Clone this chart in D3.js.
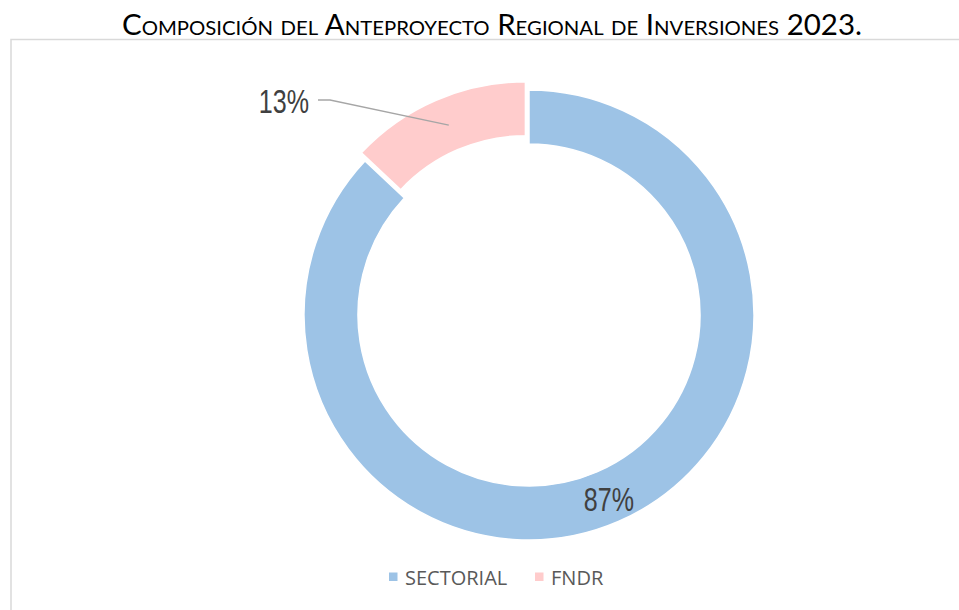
<!DOCTYPE html>
<html>
<head>
<meta charset="utf-8">
<script src="https://cdn.jsdelivr.net/npm/d3@7"></script>
<style>
  body { margin: 0; background: #fff; }
  svg { display: block; }
</style>
</head>
<body>
<svg id="chart" width="959" height="610"></svg>
<script>
const categories = ["SECTORIAL", "FNDR"];
const values = [87, 13];
const percentLabels = ["87%", "13%"];
const colors = ["#9dc3e6", "#ffcccc"];
const title = "Composición del Anteproyecto Regional de Inversiones 2023.";

const svg = d3.select("#chart");

// frame (only top and left edges visible)
svg.append("path")
   .attr("d", "M11,610 L11,39.5 L959,39.5")
   .attr("fill", "none")
   .attr("stroke", "#d9d9d9")
   .attr("stroke-width", 1.5);

// title
svg.append("text")
   .attr("x", 492)
   .attr("y", 35)
   .attr("text-anchor", "middle")
   .attr("textLength", 740)
   .attr("lengthAdjust", "spacingAndGlyphs")
   .style("font-family", "Lato, 'Open Sans', sans-serif")
   .style("font-size", "29px")
   .style("font-variant", "small-caps")
   .style("fill", "#000")
   .text(title);

// donut
const cx = 529, cy = 315;
const outerR = 225, innerR = 171;
const explode = 9;

const pie = d3.pie().sort(null).value(d => d);
const arcs = pie(values);
const arc = d3.arc().innerRadius(innerR).outerRadius(outerR);
const labelArc = d3.arc().innerRadius(201).outerRadius(201);

const g = svg.append("g").attr("transform", `translate(${cx},${cy})`);

const offsetOf = (d, i) => {
    if (i !== 1) return [0, 0];
    const a = (d.startAngle + d.endAngle) / 2;
    return [Math.sin(a) * explode, -Math.cos(a) * explode];
};

g.selectAll("path.slice")
 .data(arcs)
 .enter()
 .append("path")
 .attr("class", "slice")
 .attr("d", arc)
 .attr("transform", (d, i) => `translate(${offsetOf(d, i)})`)
 .attr("fill", (d, i) => colors[i])
 .attr("stroke", "#fff")
 .attr("stroke-width", 1.5);

const labelStyle = sel => sel
    .style("font-family", "'Liberation Sans', Arial, sans-serif")
    .style("font-size", "33px")
    .style("fill", "#404040");

// inside label for the big slice
const c0 = labelArc.centroid(arcs[0]);
g.append("text")
 .attr("transform", `translate(${c0[0]},${c0[1]}) scale(0.76,1)`)
 .attr("text-anchor", "middle")
 .attr("dominant-baseline", "central")
 .call(labelStyle)
 .text(percentLabels[0]);

// outside label with leader line for the small slice
const off1 = offsetOf(arcs[1], 1);
const c1 = arc.centroid(arcs[1]);
const tip = [c1[0] + off1[0] + 2, c1[1] + off1[1]];
const elbow = [330 - cx, 100 - cy];
const lineEnd = [318 - cx, 100 - cy];
g.append("polyline")
 .attr("points", [tip, elbow, lineEnd].map(p => p.join(",")).join(" "))
 .attr("fill", "none")
 .attr("stroke", "#a6a6a6")
 .attr("stroke-width", 1.3);
g.append("text")
 .attr("transform", `translate(${lineEnd[0] - 9},${lineEnd[1] + 1}) scale(0.76,1)`)
 .attr("text-anchor", "end")
 .attr("dominant-baseline", "central")
 .call(labelStyle)
 .text(percentLabels[1]);

// legend
const legendY = 577;
const legend = svg.append("g");
const legendX = [389, 535];
categories.forEach((name, i) => {
    legend.append("rect")
          .attr("x", legendX[i])
          .attr("y", legendY - 4.5)
          .attr("width", 8.5)
          .attr("height", 8.5)
          .attr("fill", colors[i]);
    legend.append("text")
          .attr("x", legendX[i] + 16)
          .attr("y", legendY)
          .attr("dominant-baseline", "central")
          .style("font-family", "'Open Sans', sans-serif")
          .style("font-size", "20px")
          .style("fill", "#595959")
          .text(name);
});
</script>
</body>
</html>
